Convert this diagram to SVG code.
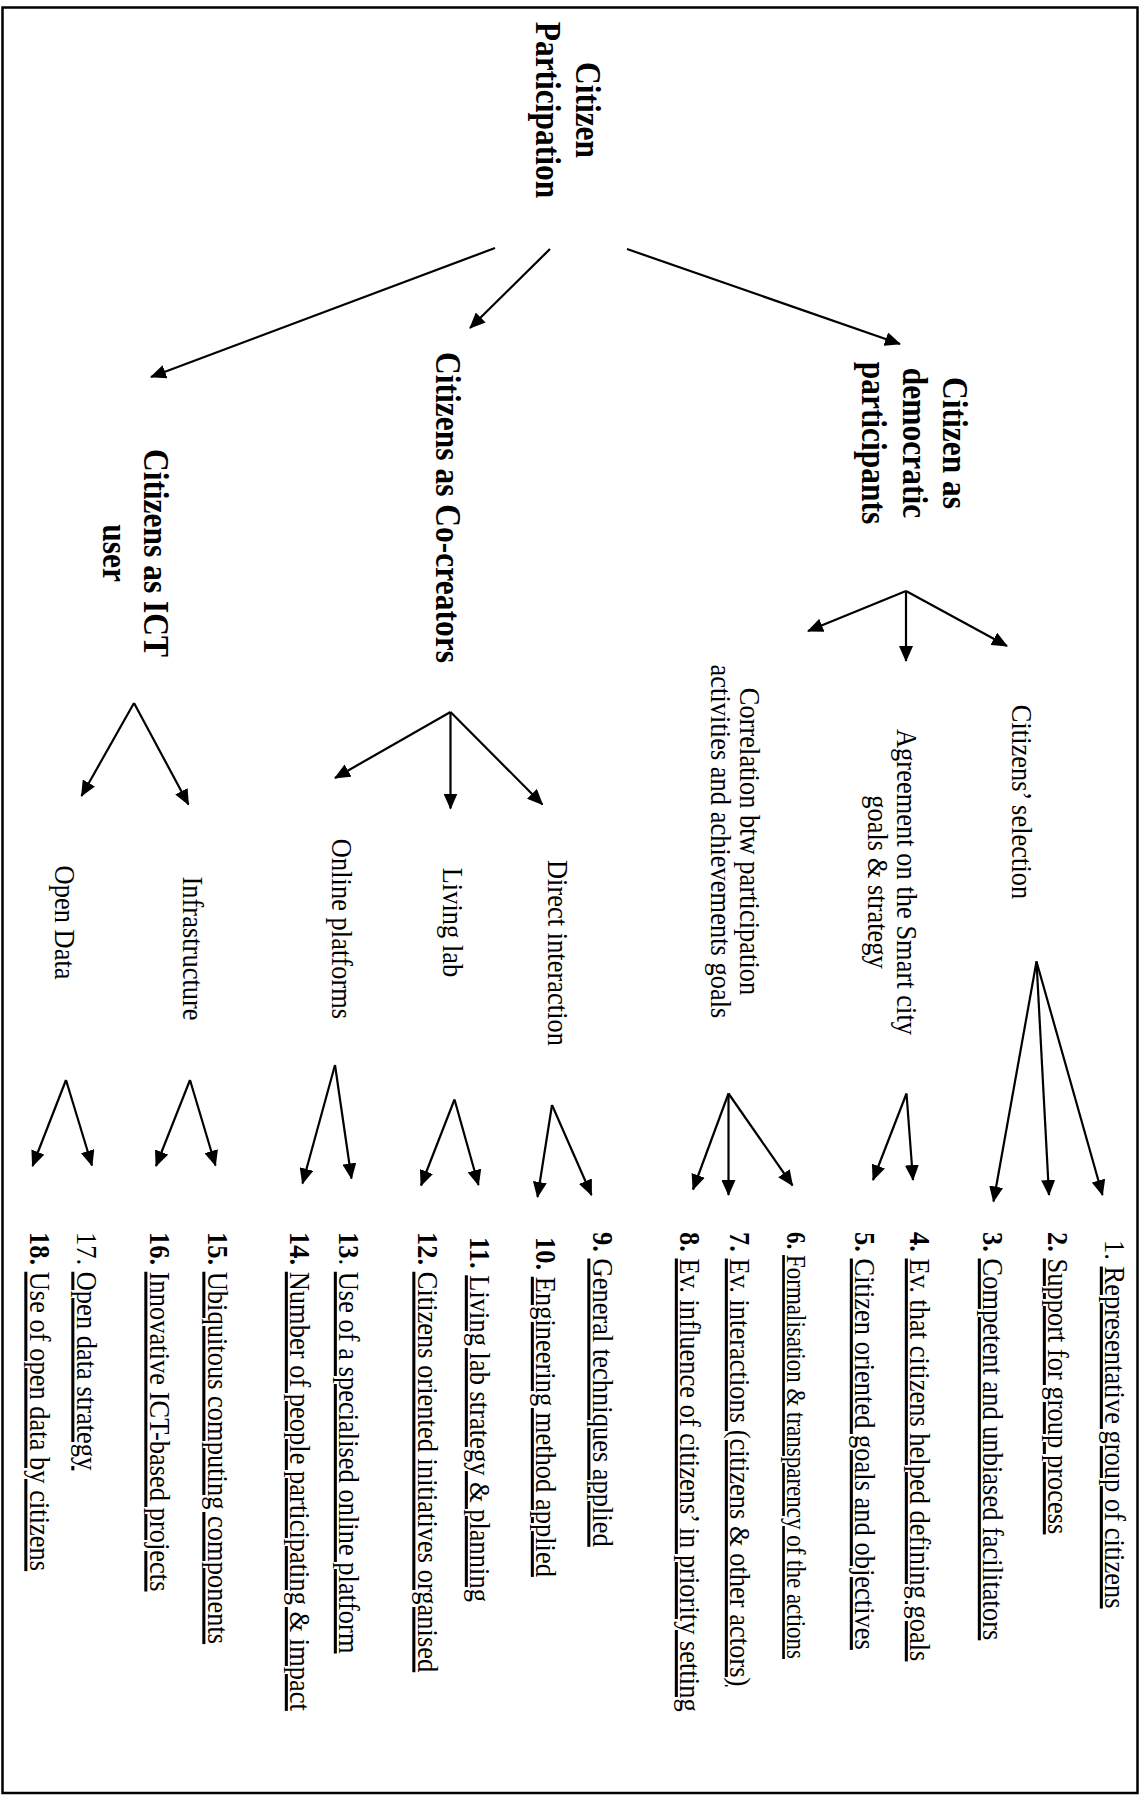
<svg xmlns="http://www.w3.org/2000/svg" width="1140" height="1796" viewBox="0 0 1140 1796">
  <defs>
    <style>
      text { font-family: "Liberation Serif", "Times New Roman", serif; fill: #000; }
      .h { font-size: 31.5px; font-weight: bold; text-anchor: middle; }
      .l { font-size: 26.5px; text-anchor: middle; }
      .i { font-size: 26.5px; text-anchor: start; }
      .s { font-size: 23px; }
      .b { font-weight: bold; }
      .u { text-decoration: underline; }
      .conn line { stroke: #000; stroke-width: 2.2; fill: none; marker-end: url(#head); }
    </style>
    <marker id="head" viewBox="0 0 16 14" markerUnits="userSpaceOnUse" markerWidth="16" markerHeight="14" refX="15" refY="7" orient="auto">
      <path d="M0,0 L16,7 L0,14 z" fill="#000"/>
    </marker>
  </defs>

  <rect x="2.5" y="7.5" width="1135" height="1785.5" fill="#fff" stroke="#000" stroke-width="2.5"/>

  <!-- connectors -->
  <g id="connectors" class="conn">
    <!-- root to the three roles -->
    <line x1="495" y1="248" x2="151" y2="377"/>
    <line x1="550" y1="249" x2="470" y2="328"/>
    <line x1="627" y1="249" x2="900" y2="344"/>
    <!-- democratic participants -->
    <line x1="906" y1="591" x2="808" y2="631"/>
    <line x1="906" y1="591" x2="906" y2="661"/>
    <line x1="906" y1="591" x2="1007" y2="646"/>
    <!-- co-creators -->
    <line x1="450.5" y1="712" x2="335" y2="778"/>
    <line x1="450.5" y1="712" x2="450.5" y2="808.5"/>
    <line x1="450.5" y1="712" x2="542.5" y2="804.5"/>
    <!-- ICT user -->
    <line x1="134" y1="703" x2="81.5" y2="796"/>
    <line x1="134" y1="703" x2="188.5" y2="804.5"/>
    <!-- Open Data -->
    <line x1="66" y1="1080" x2="32.5" y2="1166"/>
    <line x1="66" y1="1080" x2="92" y2="1165.5"/>
    <!-- Infrastructure -->
    <line x1="190" y1="1080" x2="156" y2="1166"/>
    <line x1="190" y1="1080" x2="215.5" y2="1165.5"/>
    <!-- Online platforms -->
    <line x1="335" y1="1065" x2="302.5" y2="1183.5"/>
    <line x1="335" y1="1065" x2="351.5" y2="1178.5"/>
    <!-- Living lab -->
    <line x1="454.5" y1="1099.5" x2="421" y2="1185.5"/>
    <line x1="454.5" y1="1099.5" x2="478.5" y2="1185"/>
    <!-- Direct interaction -->
    <line x1="552" y1="1105" x2="537.5" y2="1197"/>
    <line x1="552" y1="1105" x2="591.5" y2="1195"/>
    <!-- Correlation -->
    <line x1="728.5" y1="1093.5" x2="693" y2="1189.5"/>
    <line x1="728.5" y1="1093.5" x2="728.5" y2="1195"/>
    <line x1="728.5" y1="1093.5" x2="792.5" y2="1185.5"/>
    <!-- Agreement -->
    <line x1="906.5" y1="1093.5" x2="873" y2="1180"/>
    <line x1="906.5" y1="1093.5" x2="913" y2="1180"/>
    <!-- Citizens' selection -->
    <line x1="1036.5" y1="961.5" x2="993.5" y2="1201.5"/>
    <line x1="1036.5" y1="961.5" x2="1049" y2="1195"/>
    <line x1="1036.5" y1="961.5" x2="1102.5" y2="1195"/>
  </g>

  <!-- root -->
  <g id="root">
    <text class="h" transform="translate(576,110) rotate(90) scale(1,1.15)"><tspan x="0" y="0">Citizen</tspan><tspan x="0" dy="35">Participation</tspan></text>
  </g>

  <!-- roles -->
  <g id="role-democratic">
    <text class="h" transform="translate(943,443) rotate(90) scale(1,1.15)"><tspan x="0" y="0">Citizen as</tspan><tspan x="0" dy="35.2">democratic</tspan><tspan x="0" dy="35.2">participants</tspan></text>
  </g>
  <g id="role-cocreators">
    <text class="h" transform="translate(436,507.5) rotate(90) scale(1,1.15)">Citizens as Co-creators</text>
  </g>
  <g id="role-ict">
    <text class="h" transform="translate(143.5,553) rotate(90) scale(1,1.15)"><tspan x="0" y="0">Citizens as ICT</tspan><tspan x="0" dy="35.2">user</tspan></text>
  </g>

  <!-- dimensions -->
  <g id="dim-selection">
    <text class="l" transform="translate(1011.5,802) rotate(90) scale(1,1.15)">Citizens’ selection</text>
  </g>
  <g id="dim-agreement">
    <text class="l" transform="translate(897,882) rotate(90) scale(1,1.15)"><tspan x="0" y="0">Agreement on the Smart city</tspan><tspan x="0" dy="25.2">goals &amp; strategy</tspan></text>
  </g>
  <g id="dim-correlation">
    <text class="l" transform="translate(740,841.5) rotate(90) scale(1,1.15)"><tspan x="0" y="0">Correlation btw participation</tspan><tspan x="0" dy="25.2">activities and achievements goals</tspan></text>
  </g>
  <g id="dim-direct">
    <text class="l" transform="translate(548,953) rotate(90) scale(1,1.15)">Direct interaction</text>
  </g>
  <g id="dim-livinglab">
    <text class="l" transform="translate(443,922.5) rotate(90) scale(1,1.15)">Living lab</text>
  </g>
  <g id="dim-online">
    <text class="l" transform="translate(331.5,929) rotate(90) scale(1,1.15)">Online platforms</text>
  </g>
  <g id="dim-infrastructure">
    <text class="l" transform="translate(182.5,948.5) rotate(90) scale(1,1.15)">Infrastructure</text>
  </g>
  <g id="dim-opendata">
    <text class="l" transform="translate(54.5,922.5) rotate(90) scale(1,1.15)">Open Data</text>
  </g>

  <!-- indicators -->
  <g id="ind-1"><text class="i" transform="translate(1105,1240) rotate(90) scale(1,1.15)">1. <tspan class="u">Representative group of citizens</tspan></text></g>
  <g id="ind-2"><text class="i" transform="translate(1048,1232) rotate(90) scale(1,1.15)"><tspan class="b">2.</tspan> <tspan class="u">Support for group process</tspan></text></g>
  <g id="ind-3"><text class="i" transform="translate(983,1232) rotate(90) scale(1,1.15)"><tspan class="b">3.</tspan> <tspan class="u">Competent and unbiased facilitators</tspan></text></g>
  <g id="ind-4"><text class="i" transform="translate(910,1232) rotate(90) scale(1,1.15)"><tspan class="b">4.</tspan> <tspan class="u">Ev. that citizens helped defining goals</tspan></text></g>
  <g id="ind-5"><text class="i" transform="translate(855,1232) rotate(90) scale(1,1.15)"><tspan class="b">5.</tspan> <tspan class="u">Citizen oriented goals and objectives</tspan></text></g>
  <g id="ind-6"><text class="i s" transform="translate(787,1232) rotate(90) scale(1,1.15)"><tspan class="b">6.</tspan> <tspan class="u">Formalisation &amp; transparency of the actions</tspan></text></g>
  <g id="ind-7"><text class="i" transform="translate(730,1232) rotate(90) scale(1,1.15)"><tspan class="b">7.</tspan> <tspan class="u">Ev. interactions (citizens &amp; other actors)</tspan></text></g>
  <g id="ind-8"><text class="i" transform="translate(680,1232) rotate(90) scale(1,1.15)"><tspan class="b">8.</tspan> <tspan class="u">Ev. influence of citizens’ in priority setting</tspan></text></g>
  <g id="ind-9"><text class="i" transform="translate(592.5,1232) rotate(90) scale(1,1.15)"><tspan class="b">9.</tspan> <tspan class="u">General techniques applied</tspan></text></g>
  <g id="ind-10"><text class="i" transform="translate(536,1237) rotate(90) scale(1,1.15)"><tspan class="b">10.</tspan> <tspan class="u">Engineering method applied</tspan></text></g>
  <g id="ind-11"><text class="i" transform="translate(470,1237) rotate(90) scale(1,1.15)"><tspan class="b">11.</tspan> <tspan class="u">Living lab strategy &amp; planning</tspan></text></g>
  <g id="ind-12"><text class="i" transform="translate(417.5,1232) rotate(90) scale(1,1.15)"><tspan class="b">12.</tspan> <tspan class="u">Citizens oriented initiatives organised</tspan></text></g>
  <g id="ind-13"><text class="i" transform="translate(339,1232) rotate(90) scale(1,1.15)"><tspan class="b">13</tspan>. <tspan class="u">Use of a specialised online platform</tspan></text></g>
  <g id="ind-14"><text class="i" transform="translate(290,1232) rotate(90) scale(1,1.15)"><tspan class="b">14.</tspan> <tspan class="u">Number of people participating &amp; impact</tspan></text></g>
  <g id="ind-15"><text class="i" transform="translate(207.5,1232) rotate(90) scale(1,1.15)"><tspan class="b">15.</tspan> <tspan class="u">Ubiquitous computing components</tspan></text></g>
  <g id="ind-16"><text class="i" transform="translate(149.5,1232) rotate(90) scale(1,1.15)"><tspan class="b">16.</tspan> <tspan class="u">Innovative ICT-based projects</tspan></text></g>
  <g id="ind-17"><text class="i" transform="translate(76.5,1232) rotate(90) scale(1,1.15)">17. <tspan class="u">Open data strategy</tspan></text></g>
  <g id="ind-18"><text class="i" transform="translate(29.5,1232) rotate(90) scale(1,1.15)"><tspan class="b">18.</tspan> <tspan class="u">Use of open data by citizens</tspan></text></g>
</svg>
